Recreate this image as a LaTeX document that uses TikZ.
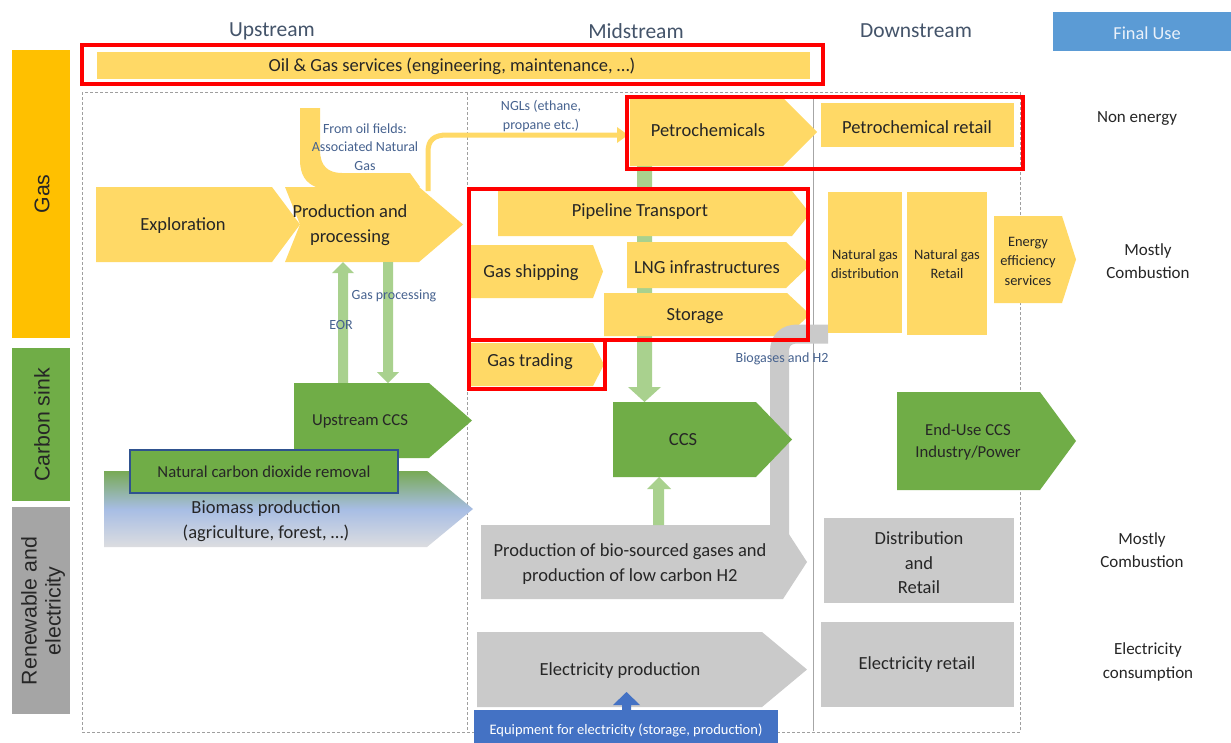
\documentclass[tikz,border=0pt]{standalone}
\usepackage{fontspec}
\setmainfont{Carlito}
\newfontfamily\barfont{Liberation Sans}
\definecolor{gold}{HTML}{FFD966}
\definecolor{gasor}{HTML}{FFC000}
\definecolor{grn}{HTML}{70AD47}
\definecolor{lgrn}{HTML}{A9D18E}
\definecolor{gry}{HTML}{CACACA}
\definecolor{dgry}{HTML}{A5A5A5}
\definecolor{bluebox}{HTML}{4472C4}
\definecolor{finalblue}{HTML}{5B9BD5}
\definecolor{finaltxt}{HTML}{EAF1FA}
\definecolor{hdrc}{HTML}{44546A}
\definecolor{bluetxt}{HTML}{46628F}
\definecolor{redc}{HTML}{FF0000}
\definecolor{txtc}{HTML}{262626}
\definecolor{ncdrb}{HTML}{2F528F}
\definecolor{bioTop}{HTML}{78AA55}
\definecolor{bioMid}{HTML}{A7BDE4}
\definecolor{bioBot}{HTML}{DCDDE0}
\newcommand\pentarrow[6]{\fill[#1] (#2,#3) -- (#4,#3) -- (#5,{(#3+#6)/2}) -- (#4,#6) -- (#2,#6) -- cycle;}
\begin{document}
\begin{tikzpicture}[x=1pt,y=-1pt,
 lab/.style={inner sep=0pt, align=center, text=txtc},
 big/.style={lab, font=\fontsize{18.5}{24.5}\selectfont},
 mid/.style={lab, font=\fontsize{16.7}{22}\selectfont},
 sml/.style={lab, font=\fontsize{14.4}{19.5}\selectfont},
 fin/.style={lab, font=\fontsize{17}{23.5}\selectfont},
 blu/.style={inner sep=0pt, align=center, text=bluetxt, font=\fontsize{14}{18.5}\selectfont},
 redbox/.style={draw=redc, line width=4pt},
 frame/.style={draw=gray!75, line width=0.8pt, dash pattern=on 3pt off 2pt},
 hdr/.style={inner sep=0pt, text=hdrc, font=\fontsize{21.5}{24}\selectfont},
 bar/.style={inner sep=0pt, rotate=90, align=center, text=txtc, font=\barfont\fontsize{21.3}{24}\selectfont},
]
\useasboundingbox (0,0) rectangle (1231,742);
\fill[white] (0,0) rectangle (1231,742);

% frames
\draw[frame] (82,92) rectangle (1020,732);
\draw[frame] (467,92) -- (467,732);
\draw[gray!70, line width=0.8pt] (813,95) -- (813,731);

% headers
\node[hdr] (hup) at (272,31) {Upstream};
\node[hdr] (hmid) at (636,31) {Midstream};
\node[hdr] (hdown) at (916,31) {Downstream};
\fill[finalblue] (1053,12) rectangle (1231,51);
\node[lab, text=finaltxt, font=\fontsize{18.3}{20}\selectfont] (hfinal) at (1147,33) {Final Use};

% left bars
\fill[gasor] (12,50) rectangle (70,338);
\node[bar] (lgas) at (42,194) {Gas};
\fill[grn] (12,348) rectangle (70,501);
\node[bar] (lcs) at (42,425) {Carbon sink};
\fill[dgry] (12,507) rectangle (70,714);
\node[bar] (lren) at (43,611) {Renewable and\\electricity};

% oil and gas services
\fill[gold] (97,52) rectangle (810,79);
\node[big] (ogs) at (452,66) {Oil \& Gas services (engineering, maintenance, …)};

% ---------- upstream
\fill[gold] (300,108) -- (320,108) -- (320,150) .. controls (320,166) and (328,173) .. (342,173) -- (410,173) -- (420,187) -- (316,187) .. controls (306,183) and (300,175) .. (300,160) -- cycle;
\pentarrow{gold}{96}{187}{272}{300}{262}
\fill[gold] (285,187) -- (419,187) -- (463,224.5) -- (419,262) -- (285,262) -- (300,224.5) -- cycle;
\node[big] (expl) at (183,226) {Exploration};
\node[big] (prod) at (350,225) {Production and\\processing};
\node[blu] (assoc) at (365,147) {From oil fields:\\Associated Natural\\Gas};

% NGL connector
\coordinate (nglS) at (428,191);
\coordinate (nglE) at (619,135);
\draw[gold, line width=5pt] (nglS) -- (428,152) .. controls (428,140) and (434,135) .. (447,135) -- (nglE);
\fill[gold] (617,127) -- (628,135) -- (617,143) -- cycle;
\node[blu] (ngl) at (541,116) {NGLs (ethane,\\propane etc.)};

% EOR and gas processing arrows
\fill[lgrn] (338,384) -- (338,273) -- (332,273) -- (343,262) -- (354,273) -- (348,273) -- (348,384) -- cycle;
\fill[lgrn] (383,262) -- (393,262) -- (393,372) -- (399,372) -- (388,383) -- (377,372) -- (383,372) -- cycle;
\node[blu] (gproc) at (394,296) {Gas processing};
\node[blu] (eor) at (341,325) {EOR};

% upstream CCS and biomass
\pentarrow{grn}{294}{383}{429}{472}{458}
\node[mid] (uccs) at (360,421) {Upstream CCS};
\shade[top color=bioTop, bottom color=bioBot, middle color=bioMid] (104,471) -- (427,471) -- (473,509) -- (427,547) -- (104,547) -- cycle;
\node[big] (bio) at (266,521) {Biomass production\\(agriculture, forest, …)};
\node[draw=ncdrb, line width=1.3pt, fill=grn, minimum width=268pt, minimum height=43pt, inner sep=0pt, text=txtc, font=\fontsize{16.7}{20}\selectfont] (ncdr) at (264,471.5) {Natural carbon dioxide removal};

% ---------- midstream
% green CO2 line petrochemicals -> CCS
\fill[lgrn] (637,160) -- (652,160) -- (652,387) -- (661,387) -- (644.5,402) -- (628,387) -- (637,387) -- cycle;
\pentarrow{gold}{630}{98}{783}{817}{166}
\node[big] (petro) at (708,130) {Petrochemicals};
\pentarrow{gold}{498}{191}{792}{810}{236}
\node[big] (pipe) at (640,212) {Pipeline Transport};
\pentarrow{gold}{471}{245}{593}{603}{298}
\node[big] (ship) at (531,273) {Gas shipping};
\pentarrow{gold}{627}{242}{786}{810}{288}
\node[big] (lng) at (707,267) {LNG infrastructures};
\pentarrow{gold}{604}{293}{787}{810}{336}
\node[big] (stor) at (695,316) {Storage};
\pentarrow{gold}{470}{343}{593}{604}{386}
\node[big] (trade) at (530,362) {Gas trading};

% biogases band
\draw[gry, line width=19pt] (779.5,535) -- (779.5,352) .. controls (779.5,340) and (786,334) .. (798,334) -- (828,334);
\pentarrow{gry}{481}{525}{783}{807}{599}
\node[big] (biop) at (630,564) {Production of bio-sourced gases and\\production of low carbon H2};
\node[blu] (biog) at (782,359) {Biogases and H2};

% bio -> CCS arrow
\fill[lgrn] (653,525) -- (653,489) -- (647,489) -- (659,477) -- (671,489) -- (664,489) -- (664,525) -- cycle;
\pentarrow{grn}{613}{402}{756}{792}{477}
\node[big] (ccs) at (683,440) {CCS};

% electricity
\pentarrow{gry}{477}{632}{762}{807}{707}
\node[big] (elp) at (620,671) {Electricity production};
\fill[bluebox] (474,710) rectangle (778,745);
\fill[bluebox] (622,712) -- (622,705) -- (613,705) -- (626.5,692) -- (640,705) -- (631,705) -- (631,712) -- cycle;
\node[lab, text=white, font=\fontsize{14.5}{18}\selectfont] (equip) at (626,730) {Equipment for electricity (storage, production)};

% ---------- downstream
\fill[gold] (821,103) rectangle (1014,147);
\node[big] (pretail) at (917,127) {Petrochemical retail};
\fill[gold] (828,192) rectangle (902,333);
\node[sml] (ngd) at (865,264) {Natural gas\\distribution};
\fill[gold] (907,192) rectangle (987,335);
\node[sml] (ngr) at (947,264) {Natural gas\\Retail};
\pentarrow{gold}{994}{216}{1062}{1076}{303}
\node[sml] (eff) at (1028,261) {Energy\\efficiency\\services};
\pentarrow{grn}{897}{392}{1040}{1076}{490}
\node[mid] (euccs) at (968,442) {End-Use CCS\\Industry/Power};
\fill[gry] (824,518) rectangle (1014,603);
\node[big] (dr) at (919,563) {Distribution\\and\\Retail};
\fill[gry] (821,622) rectangle (1014,707);
\node[big] (elr) at (917,665) {Electricity retail};

% final use labels
\node[fin] (fne) at (1137,119) {Non energy};
\node[fin] (fmc1) at (1148,261) {Mostly\\Combustion};
\node[fin] (fmc2) at (1142,550) {Mostly\\Combustion};
\node[fin] (fec) at (1148,662) {Electricity\\consumption};

% red boxes
\draw[redbox] (82,45) rectangle (823,84);
\draw[redbox] (627,97) rectangle (1023,169);
\draw[redbox] (468.5,189) rectangle (808,340);
\draw[redbox] (468.5,340) rectangle (605,389);
\end{tikzpicture}
\end{document}
